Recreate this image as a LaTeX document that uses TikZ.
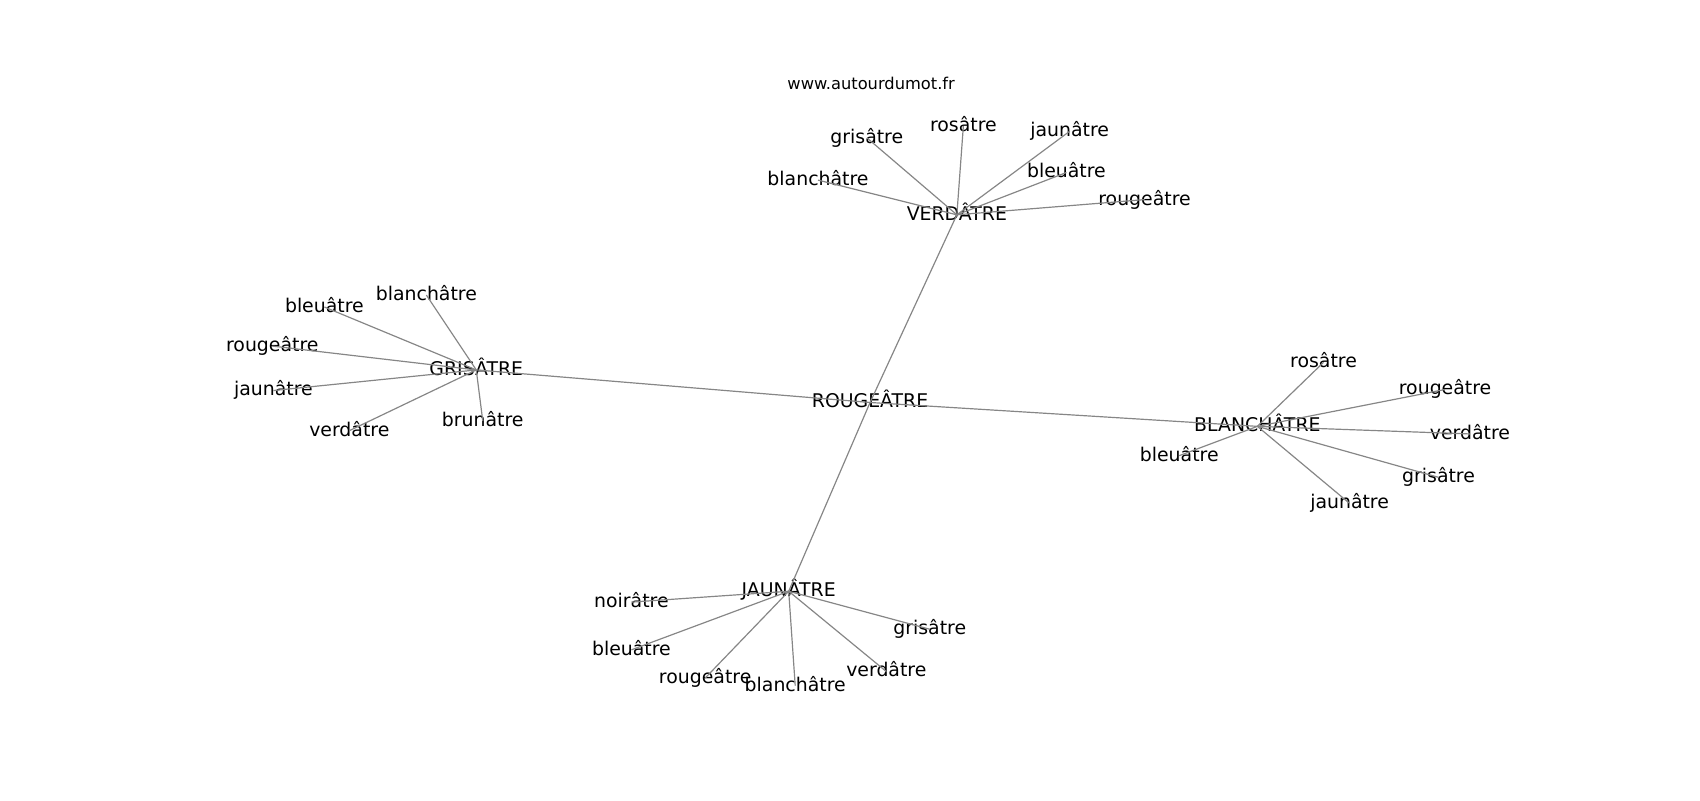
\documentclass[tikz,border=0pt]{standalone}
\usepackage{fontspec}
\setmainfont{DejaVu Sans}
\begin{document}
\begin{tikzpicture}[x=1pt,y=-1pt,
  lbl/.style={inner sep=0pt,font=\fontsize{17.4}{20}\selectfont,text height=1.2em,text depth=0.2em},
  ttl/.style={inner sep=0pt,font=\fontsize{15}{18}\selectfont},
  edge/.style={draw=gray!95,line width=1.1pt}]
\useasboundingbox (0,0) rectangle (1567,737.5);
\node[ttl] (title) at (803,77) {www.autourdumot.fr};
% hubs
\node[lbl] (R) at (802,371) {ROUGEÂTRE};
\node[lbl] (V) at (882,198) {VERDÂTRE};
\node[lbl] (G) at (439,341) {GRISÂTRE};
\node[lbl] (B) at (1159,393) {BLANCHÂTRE};
\node[lbl] (J) at (727,545) {JAUNÂTRE};
% top
\node[lbl] (v1) at (799,127) {grisâtre};
\node[lbl] (v2) at (888,116) {rosâtre};
\node[lbl] (v3) at (986,121) {jaunâtre};
\node[lbl] (v4) at (754,166) {blanchâtre};
\node[lbl] (v5) at (983,159) {bleuâtre};
\node[lbl] (v6) at (1055,184) {rougeâtre};
% left
\node[lbl] (g1) at (299,283) {bleuâtre};
\node[lbl] (g2) at (393,272) {blanchâtre};
\node[lbl] (g3) at (251,319) {rougeâtre};
\node[lbl] (g4) at (252,360) {jaunâtre};
\node[lbl] (g5) at (322,397) {verdâtre};
\node[lbl] (g6) at (445,388) {brunâtre};
% right
\node[lbl] (b1) at (1220,334) {rosâtre};
\node[lbl] (b2) at (1332,359) {rougeâtre};
\node[lbl] (b3) at (1355,400) {verdâtre};
\node[lbl] (b4) at (1087,420) {bleuâtre};
\node[lbl] (b5) at (1326,440) {grisâtre};
\node[lbl] (b6) at (1244,464) {jaunâtre};
% bottom
\node[lbl] (j1) at (582,555) {noirâtre};
\node[lbl] (j2) at (582,599) {bleuâtre};
\node[lbl] (j3) at (650,625) {rougeâtre};
\node[lbl] (j4) at (733,632) {blanchâtre};
\node[lbl] (j5) at (817,619) {verdâtre};
\node[lbl] (j6) at (857,580) {grisâtre};
\foreach \a/\b in {R/V,R/G,R/B,R/J,
  V/v1,V/v2,V/v3,V/v4,V/v5,V/v6,
  G/g1,G/g2,G/g3,G/g4,G/g5,G/g6,
  B/b1,B/b2,B/b3,B/b4,B/b5,B/b6,
  J/j1,J/j2,J/j3,J/j4,J/j5,J/j6}
  \draw[edge] (\a.center) -- (\b.center);
\end{tikzpicture}
\end{document}
